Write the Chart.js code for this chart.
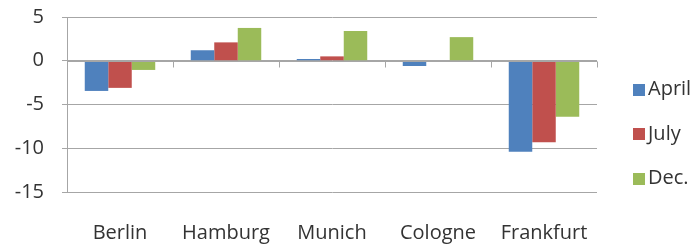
<!DOCTYPE html>
<html>
<head>
<meta charset="utf-8">
<script src="https://cdn.jsdelivr.net/npm/chart.js@4.4.0/dist/chart.umd.min.js"></script>
<style>
  html, body { margin: 0; padding: 0; background: #fff; }
  #wrap { width: 700px; height: 245px; }
</style>
</head>
<body>
<div id="wrap"><canvas id="chart"></canvas></div>
<script>
// cities on the x axis
var cities = ['Berlin', 'Hamburg', 'Munich', 'Cologne', 'Frankfurt'];
// series values
var april = [-3.45, 1.2, 0.2, -0.6, -10.4];
var july = [-3.1, 2.1, 0.5, 0, -9.3];
var december = [-1.05, 3.75, 3.4, 2.7, -6.4];
// y axis ticks
var yTicks = [-15, -10, -5, 0, 5];

var gray = '#a6a6a6';
var textColor = '#333333';
var fontFamily = "'Open Sans', sans-serif";

// small tick marks on the zero line between the categories
var zeroAxisTicks = {
    id: 'zeroAxisTicks',
    afterDatasetsDraw: function (chart) {
        var x = chart.scales.x, y = chart.scales.y;
        var y0 = Math.round(y.getPixelForValue(0)) + 0.5;
        var ctx = chart.ctx;
        ctx.save();
        ctx.strokeStyle = gray;
        ctx.lineWidth = 1;
        ctx.beginPath();
        ctx.moveTo(x.left, y0);
        ctx.lineTo(x.right, y0);
        for (var i = 0; i <= cities.length; i++) {
            var px = Math.round(x.getPixelForValue(i - 0.5)) + 0.5;
            ctx.moveTo(px, y0);
            ctx.lineTo(px, y0 + 6);
        }
        ctx.stroke();
        ctx.restore();
    }
};

// legend on the right, like the excel one (square, then the name)
var sideLegend = {
    id: 'sideLegend',
    afterDraw: function (chart) {
        var ctx = chart.ctx;
        var area = chart.chartArea;
        var sets = chart.data.datasets;
        var left = area.right + 36;
        var step = 44.5;
        var mid = 134;
        ctx.save();
        ctx.font = '20px ' + fontFamily;
        ctx.textBaseline = 'middle';
        ctx.textAlign = 'left';
        sets.forEach(function (ds, i) {
            var cy = mid + (i - (sets.length - 1) / 2) * step;
            ctx.fillStyle = ds.backgroundColor;
            ctx.fillRect(left, Math.round(cy - 6), 12, 12);
            ctx.fillStyle = textColor;
            ctx.fillText(ds.label, left + 15, cy);
        });
        ctx.restore();
    }
};

new Chart(document.getElementById('chart').getContext('2d'), {
    type: 'bar',
    data: {
        labels: cities,
        datasets: [{
            label: 'April',
            data: april,
            backgroundColor: '#4f81bd'
        }, {
            label: 'July',
            data: july,
            backgroundColor: '#c0504d'
        }, {
            label: 'Dec.',
            data: december,
            backgroundColor: '#9bbb59'
        }]
    },
    options: {
        responsive: true,
        maintainAspectRatio: false,
        animation: false,
        layout: {
            padding: { left: 0, right: 103, top: 17, bottom: 0 }
        },
        datasets: {
            bar: {
                categoryPercentage: 0.665,
                barPercentage: 1,
                borderWidth: 0
            }
        },
        scales: {
            x: {
                grid: { display: false, drawTicks: false },
                border: { display: false },
                afterFit: function (axis) { axis.height = 53; },
                ticks: {
                    color: textColor,
                    padding: 29,
                    maxRotation: 0,
                    font: { family: fontFamily, size: 20 }
                }
            },
            y: {
                min: -15,
                max: 5,
                afterBuildTicks: function (axis) {
                    axis.ticks = yTicks.map(function (v) { return { value: v }; });
                },
                afterFit: function (axis) { axis.paddingTop = 0; axis.width = 67; },
                grid: { color: gray, lineWidth: 1, tickLength: 5, drawTicks: true },
                border: { color: gray },
                ticks: {
                    color: textColor,
                    padding: 18,
                    font: { family: fontFamily, size: 20 }
                }
            }
        },
        plugins: {
            legend: { display: false },
            tooltip: { enabled: false }
        }
    },
    plugins: [zeroAxisTicks, sideLegend]
});
</script>
</body>
</html>
